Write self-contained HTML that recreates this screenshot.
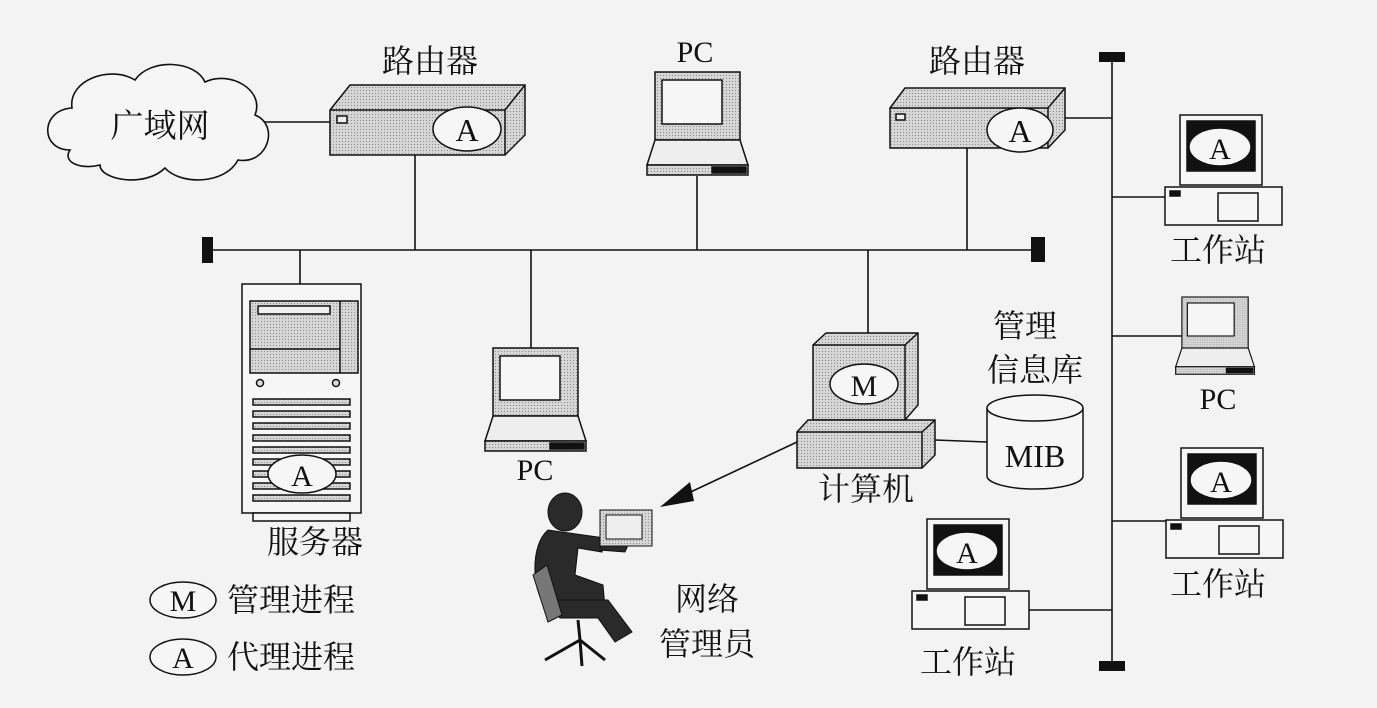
<!DOCTYPE html>
<html><head><meta charset="utf-8"><style>
html,body{margin:0;padding:0;background:#f3f3f3;}
svg{display:block}
text{font-family:"Liberation Serif","Noto Serif CJK SC",serif;fill:#111}
</style></head><body>
<svg width="1377" height="708" viewBox="0 0 1377 708" xmlns="http://www.w3.org/2000/svg">
<defs>
<pattern id="dot" width="3" height="3" patternUnits="userSpaceOnUse"><rect width="3" height="3" fill="#d6d6d6"/><rect width="1" height="1" fill="#8a8a8a"/></pattern>
</defs>
<g stroke="#111" stroke-width="1.6" fill="none">
<path d="M70,150 C40,150 40,110 72,108 C68,80 110,65 135,80 C150,58 195,60 205,82 C230,70 265,90 255,115 C280,125 268,165 238,160 C225,185 180,185 165,168 C145,188 100,180 100,165 C80,170 62,162 70,150 Z" fill="#f6f6f6"/>
<line x1="265" y1="122" x2="330" y2="122"/>
<line x1="207" y1="250" x2="1040" y2="250"/>
<line x1="415" y1="150" x2="415" y2="250"/>
<line x1="697" y1="176" x2="697" y2="250"/>
<line x1="967" y1="148" x2="967" y2="250"/>
<line x1="300" y1="250" x2="300" y2="284"/>
<line x1="531" y1="250" x2="531" y2="348"/>
<line x1="868" y1="250" x2="868" y2="334"/>
<line x1="1112" y1="58" x2="1112" y2="666"/>
<line x1="1060" y1="118" x2="1112" y2="118"/>
<line x1="1112" y1="197" x2="1165" y2="197"/>
<line x1="1112" y1="336" x2="1182" y2="336"/>
<line x1="1112" y1="521" x2="1168" y2="521"/>
<line x1="1028" y1="610" x2="1112" y2="610"/>
<line x1="935" y1="440" x2="987" y2="442"/>
<line x1="797" y1="442" x2="680" y2="497"/>
</g>
<polygon points="660,507 690,482 694,501" fill="#111"/>
<g fill="#111">
<rect x="202" y="237" width="11" height="26"/>
<rect x="1031" y="237" width="14" height="25"/>
<rect x="1099" y="52" width="26" height="10"/>
<rect x="1099" y="661" width="26" height="10"/>
</g>
<text x="160" y="137" font-size="33" text-anchor="middle">广域网</text>
<g stroke="#111" stroke-width="1.5">
<path d="M330,110 L350,85 L525,85 L525,135 L505,155 L330,155 Z" fill="url(#dot)"/>
<path d="M330,110 L505,110 L525,85" fill="none"/>
<line x1="505" y1="110" x2="505" y2="155"/>
<rect x="337" y="116" width="10" height="7" fill="#eee"/>
<ellipse cx="467" cy="129" rx="34" ry="22" fill="#f6f6f6"/>
<path d="M890,108 L905,88 L1065,88 L1065,130 L1048,148 L890,148 Z" fill="url(#dot)"/>
<path d="M890,108 L1048,108 L1065,88" fill="none"/>
<line x1="1048" y1="108" x2="1048" y2="148"/>
<rect x="896" y="114" width="9" height="6" fill="#eee"/>
<ellipse cx="1020" cy="130" rx="33" ry="22" fill="#f6f6f6"/>
</g>
<text x="467" y="141" font-size="32" text-anchor="middle">A</text>
<text x="1020" y="142" font-size="32" text-anchor="middle">A</text>
<text x="430" y="72" font-size="32" text-anchor="middle">路由器</text>
<text x="977" y="72" font-size="32" text-anchor="middle">路由器</text>
<text x="695" y="62" font-size="30" text-anchor="middle">PC</text>
<g stroke="#111" stroke-width="1.5">
<g id="lap">
<rect x="655" y="72" width="85" height="68" fill="url(#dot)"/>
<rect x="662" y="80" width="60" height="44" fill="#f6f6f6"/>
<path d="M655,140 L647,165 L748,165 L740,140 Z" fill="#eee"/>
<rect x="647" y="165" width="101" height="10" fill="url(#dot)"/>
<rect x="712" y="167" width="34" height="6" fill="#111"/>
</g>
<use href="#lap" transform="translate(-162,276)"/>
<use href="#lap" transform="translate(671,243) scale(0.78 0.75)"/>
</g>
<text x="535" y="480" font-size="30" text-anchor="middle">PC</text>
<text x="1218" y="409" font-size="30" text-anchor="middle">PC</text>
<g stroke="#111" stroke-width="1.5">
<rect x="242" y="284" width="119" height="229" fill="#f6f6f6"/>
<rect x="253" y="513" width="97" height="8" fill="#f6f6f6"/>
<rect x="250" y="301" width="108" height="72" fill="url(#dot)"/>
<rect x="258" y="306" width="72" height="8" fill="#f0f0f0"/>
<line x1="250" y1="349" x2="340" y2="349"/>
<line x1="340" y1="301" x2="340" y2="373"/>
<circle cx="260" cy="383" r="3.5" fill="#ddd"/><circle cx="336" cy="383" r="3.5" fill="#ddd"/>
<g fill="url(#dot)">
<rect x="253" y="399" width="97" height="6"/><rect x="253" y="411" width="97" height="6"/><rect x="253" y="423" width="97" height="6"/><rect x="253" y="435" width="97" height="6"/><rect x="253" y="447" width="97" height="6"/><rect x="253" y="459" width="97" height="6"/><rect x="253" y="471" width="97" height="6"/><rect x="253" y="483" width="97" height="6"/><rect x="253" y="495" width="97" height="6"/>
</g>
<ellipse cx="302" cy="474" rx="34" ry="19" fill="#f6f6f6"/>
</g>
<text x="302" y="486" font-size="30" text-anchor="middle">A</text>
<text x="315" y="553" font-size="32" text-anchor="middle">服务器</text>
<g stroke="#111" stroke-width="1.5">
<path d="M813,345 L826,333 L918,333 L918,405 L905,420 L813,420 Z" fill="url(#dot)"/>
<path d="M813,345 L905,345 L918,333 M905,345 L905,420" fill="none"/>
<path d="M797,432 L808,420 L935,420 L935,455 L922,468 L797,468 Z" fill="url(#dot)"/>
<path d="M797,432 L922,432 L935,420 M922,432 L922,468" fill="none"/>
<ellipse cx="864" cy="384" rx="34" ry="20" fill="#f6f6f6"/>
</g>
<text x="864" y="396" font-size="30" text-anchor="middle">M</text>
<text x="866" y="500" font-size="32" text-anchor="middle">计算机</text>
<g stroke="#111" stroke-width="1.5" fill="#f6f6f6">
<path d="M987,408 L987,476 A48,13 0 0 0 1083,476 L1083,408"/>
<ellipse cx="1035" cy="408" rx="48" ry="13"/>
</g>
<text x="1035" y="467" font-size="32" text-anchor="middle">MIB</text>
<text x="1025" y="337" font-size="32" text-anchor="middle">管理</text>
<text x="1035" y="381" font-size="32" text-anchor="middle">信息库</text>
<g stroke="#111" stroke-width="1.5">
<g id="ws">
<rect x="1180" y="115" width="82" height="70" fill="#f6f6f6"/>
<rect x="1187" y="121" width="68" height="50" fill="#111"/>
<ellipse cx="1220" cy="147" rx="31" ry="19" fill="#f6f6f6"/>
<rect x="1165" y="187" width="117" height="38" fill="#f6f6f6"/>
<rect x="1218" y="193" width="40" height="28" fill="none"/>
<rect x="1170" y="191" width="10" height="5" fill="#111"/>
</g>
<use href="#ws" transform="translate(1,333)"/>
<use href="#ws" transform="translate(-253,404)"/>
</g>
<text x="1220" y="159" font-size="30" text-anchor="middle">A</text>
<text x="1221" y="492" font-size="30" text-anchor="middle">A</text>
<text x="967" y="563" font-size="30" text-anchor="middle">A</text>
<text x="1218" y="261" font-size="32" text-anchor="middle">工作站</text>
<text x="1218" y="595" font-size="32" text-anchor="middle">工作站</text>
<text x="968" y="673" font-size="32" text-anchor="middle">工作站</text>
<g fill="#2a2a2a" stroke="#111">
<ellipse cx="565" cy="512" rx="17" ry="19"/>
<path d="M548,530 C530,545 532,590 545,605 L605,608 L603,585 L575,575 L578,548 L602,552 L605,538 Z"/>
<path d="M545,600 L608,600 L632,632 L615,642 L598,618 L560,618 Z"/>
<path d="M600,540 L628,545 L625,552 L600,550 Z"/>
<path d="M533,575 L547,565 L562,615 L548,622 Z" fill="#777"/>
<path d="M578,620 L580,640 M580,640 L545,660 M580,640 L605,660 M580,640 L582,666" fill="none" stroke-width="3"/>
<rect x="600" y="510" width="52" height="36" fill="url(#dot)"/>
<rect x="606" y="515" width="36" height="24" fill="#eee"/>
</g>
<text x="707" y="610" font-size="32" text-anchor="middle">网络</text>
<text x="707" y="655" font-size="32" text-anchor="middle">管理员</text>
<g stroke="#111" stroke-width="1.5" fill="#f6f6f6">
<ellipse cx="183" cy="600" rx="33" ry="18"/>
<ellipse cx="183" cy="657" rx="33" ry="18"/>
</g>
<text x="183" y="611" font-size="30" text-anchor="middle">M</text>
<text x="183" y="668" font-size="30" text-anchor="middle">A</text>
<text x="227" y="611" font-size="32">管理进程</text>
<text x="227" y="668" font-size="32">代理进程</text>
</svg>
</body></html>
